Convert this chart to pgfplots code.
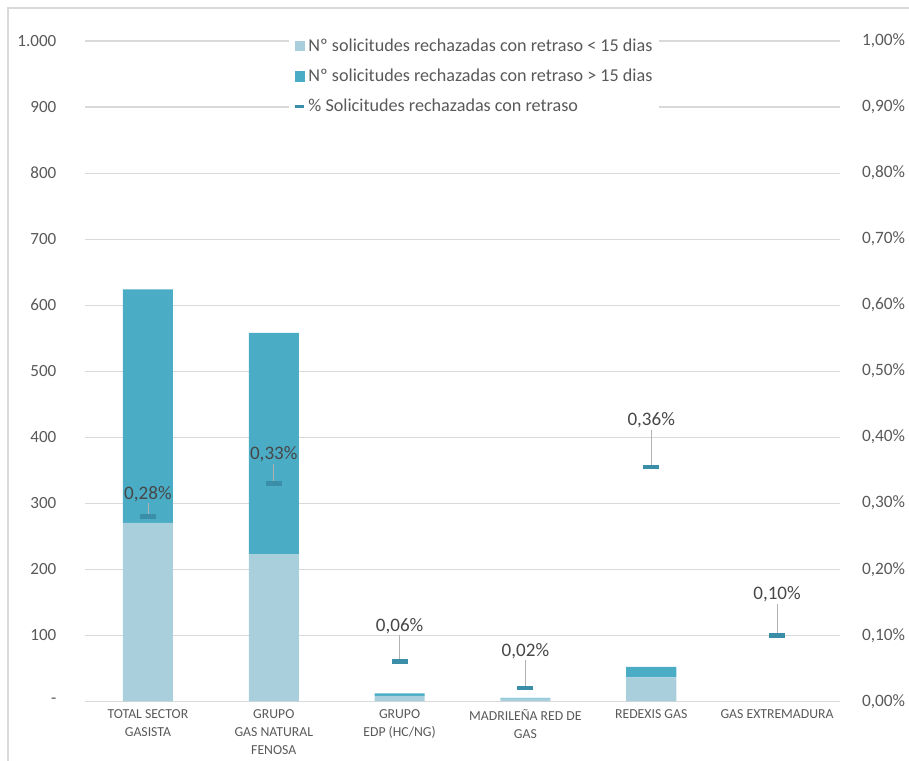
\documentclass[border=0pt]{standalone}
\usepackage{pgfplots}
\pgfplotsset{compat=1.18}
\usepackage{fontspec}
\setmainfont{Carlito}

\definecolor{lightbar}{RGB}{169,207,221}
\definecolor{darkbar}{RGB}{75,172,198}
\definecolor{markcol}{RGB}{58,142,167}
\definecolor{txt}{RGB}{89,89,89}
\definecolor{gridc}{RGB}{217,217,217}

\begin{document}
\begin{tikzpicture}[x=1pt,y=1pt]
% bars, left axis
\begin{axis}[
  name=left,
  width=566pt, height=495pt, scale only axis,
  ybar stacked, bar width=37.5pt,
  xmin=-0.5, xmax=5.5, ymin=0, ymax=1000,
  xtick=data,
  xticklabels={{TOTAL SECTOR\\GASISTA},{GRUPO\\GAS NATURAL\\FENOSA},{GRUPO\\EDP (HC/NG)},{MADRILEÑA RED DE\\GAS},{REDEXIS GAS},{GAS EXTREMADURA}},
  xticklabel style={align=center, font=\fontsize{10.3}{13.5}\selectfont, text=txt, anchor=north, yshift=-3pt},
  ytick={0,100,...,1000},
  yticklabels={-,100,200,300,400,500,600,700,800,900,1.000},
  yticklabel style={font=\fontsize{12.8}{15}\selectfont, text=txt, xshift=-18pt},
  major tick length=0pt,
  axis x line*=bottom, axis y line*=left,
  y axis line style={draw=none},
  x axis line style={draw=gridc, line width=0.8pt},
  ymajorgrids, grid style={gridc, line width=0.8pt},
]
\addplot+[fill=lightbar, draw=none] coordinates {(0,270) (1,223) (2,8) (3,4) (4,36) (5,0)};
\addplot+[fill=darkbar, draw=none] coordinates {(0,354) (1,335) (2,4) (3,1) (4,16) (5,0)};
\end{axis}
% percentages, right axis
\begin{axis}[
  width=566pt, height=495pt, scale only axis,
  xmin=-0.5, xmax=5.5, ymin=0, ymax=1,
  axis x line=none, axis y line*=right,
  y axis line style={draw=none},
  major tick length=0pt,
  ytick={0,0.1,...,1.0},
  yticklabels={{0,00\%},{0,10\%},{0,20\%},{0,30\%},{0,40\%},{0,50\%},{0,60\%},{0,70\%},{0,80\%},{0,90\%},{1,00\%}},
  yticklabel style={font=\fontsize{13}{15}\selectfont, text=txt, xshift=13pt},
  legend style={at={(0.27,1.012)}, anchor=north west, draw=none, fill=white,
    font=\fontsize{13.6}{16}\selectfont, text=txt, row sep=7.8pt, inner xsep=3pt, inner ysep=2pt},
  legend cell align=left,
]
\addlegendimage{legend image code/.code={\fill[lightbar] (0pt,-3.5pt) rectangle (7pt,3.5pt);}}
\addlegendimage{legend image code/.code={\fill[darkbar] (0pt,-3.5pt) rectangle (7pt,3.5pt);}}
\addlegendimage{legend image code/.code={\draw[markcol, line width=2.5pt] (0pt,0pt) -- (7pt,0pt);}}
\addplot[only marks, mark=-, mark size=6pt, mark options={markcol, line width=3.5pt},
  error bars/.cd, y dir=plus, y explicit, error mark=none,
  error bar style={gray!60, line width=0.6pt}]
  table[x=x, y=y, y error plus=e] {
x y e
0 0.28 0.02
1 0.33 0.03
2 0.06 0.04
3 0.02 0.042
4 0.355 0.056
5 0.10 0.048
};
\addplot[only marks, mark=none,
  visualization depends on={\thisrow{e}*495 \as \off},
  nodes near coords, point meta=explicit symbolic,
  every node near coord/.style={anchor=south, yshift=\off pt, inner sep=1pt,
    font=\fontsize{14.3}{16}\selectfont, text=black!72}]
  table[x=x, y=y, meta=lab] {
x y e lab
0 0.28 0.02 {0,28\%}
1 0.33 0.03 {0,33\%}
2 0.06 0.04 {0,06\%}
3 0.02 0.042 {0,02\%}
4 0.355 0.056 {0,36\%}
5 0.10 0.048 {0,10\%}
};
\legend{Nº solicitudes rechazadas con retraso < 15 dias, Nº solicitudes rechazadas con retraso > 15 dias, \% Solicitudes rechazadas con retraso}
\end{axis}
\pgfresetboundingbox
\path[use as bounding box] ([xshift=-63.75pt,yshift=-44.25pt]current axis.south west) rectangle ([xshift=51.75pt,yshift=30.75pt]current axis.north east);
\draw[gridc, line width=0.8pt] ([xshift=-57.75pt,yshift=-50pt]current axis.south west) -- ([xshift=-57.75pt,yshift=24.75pt]current axis.north west) -- ([xshift=60pt,yshift=24.75pt]current axis.north east);
\end{tikzpicture}
\end{document}
